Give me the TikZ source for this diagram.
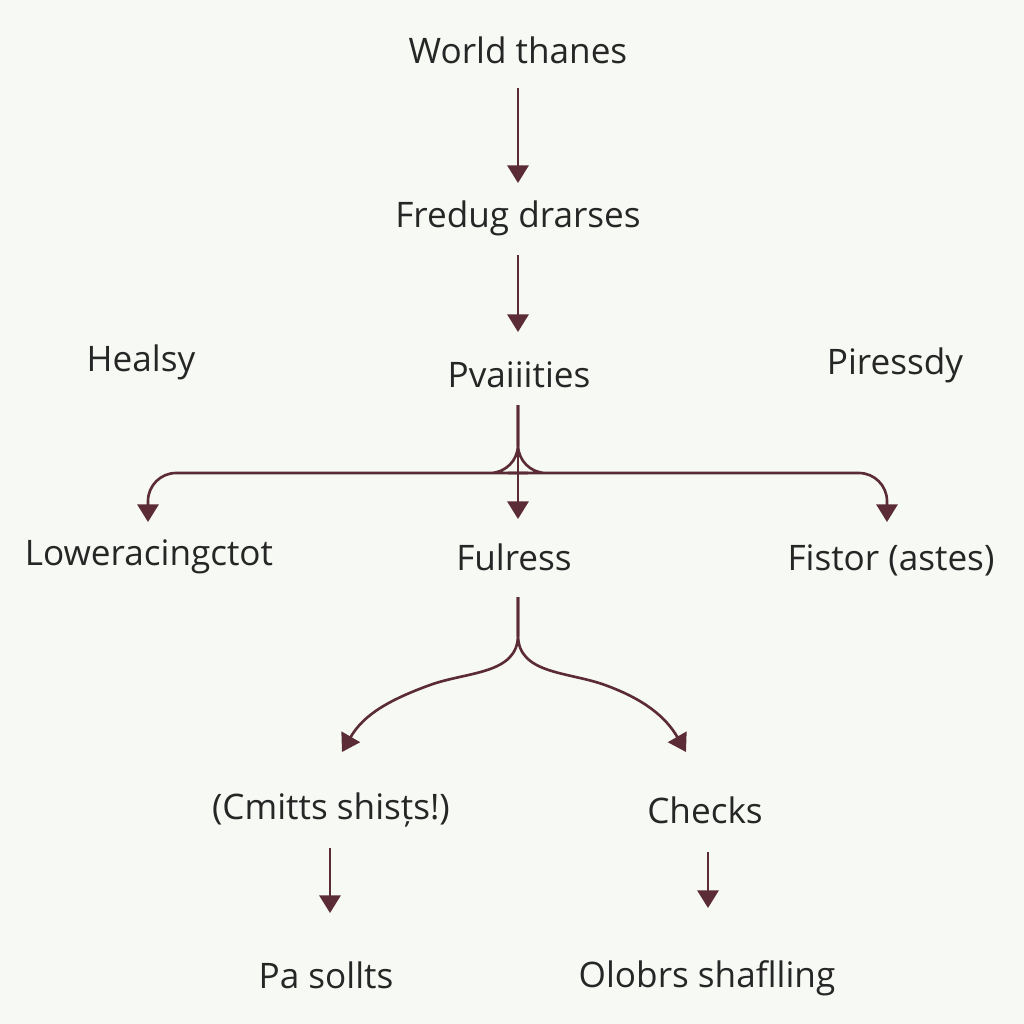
\documentclass[tikz,border=0pt]{standalone}
\usepackage{fontspec}
\setmainfont{Open Sans}
\usetikzlibrary{arrows.meta}
\definecolor{paper}{HTML}{F7F9F4}
\definecolor{wine}{HTML}{5B2B36}
\begin{document}
\begin{tikzpicture}[x=1cm,y=-1cm,
    lbl/.style={inner sep=1pt,font=\fontsize{10}{12}\selectfont,text=black!85},
    flow/.style={wine,line width=0.75pt,-{Triangle[length=5pt,width=6pt]}}]
    % background
    \fill[paper] (0,0) rectangle (10.24,10.24);
    \useasboundingbox (0,0) rectangle (10.24,10.24);

    % labels
    \node[lbl] (world) at (5.18,0.50) {World thanes};
    \node[lbl] (fredug) at (5.18,2.18) {Fredug drarses};
    \node[lbl] (pvai) at (5.19,3.75) {Pvaiiities};
    \node[lbl] (healsy) at (1.41,3.62) {Healsy};
    \node[lbl] (piress) at (8.95,3.65) {Piressdy};
    \node[lbl] (lower) at (1.49,5.57) {Loweracingctot};
    \node[lbl] (fulress) at (5.14,5.57) {Fulress};
    \node[lbl] (fistor) at (8.91,5.60) {Fistor (astes)};
    \node[lbl] (cmitts) at (3.31,8.10) {(Cmitts shisțs!)};
    \node[lbl] (checks) at (7.05,8.10) {Checks};
    \node[lbl] (pa) at (3.26,9.75) {Pa sollts};
    \node[lbl] (olobrs) at (7.07,9.78) {Olobrs shaflling};

    % end points
    \coordinate (a1) at (5.18,0.88);  \coordinate (a2) at (5.18,1.83);
    \coordinate (b1) at (5.18,2.55);  \coordinate (b2) at (5.18,3.32);
    \coordinate (c0) at (5.18,4.05);  \coordinate (c1) at (5.18,5.19);
    \coordinate (cl) at (1.48,5.22);  \coordinate (cr) at (8.87,5.22);
    \coordinate (d0) at (5.18,5.97);
    \coordinate (dl) at (3.42,7.52);  \coordinate (dr) at (6.86,7.52);
    \coordinate (e1) at (3.30,8.48);  \coordinate (e2) at (3.30,9.13);
    \coordinate (f1) at (7.08,8.52);  \coordinate (f2) at (7.08,9.08);

    % connectors
    \draw[flow] (a1) -- (a2);
    \draw[flow] (b1) -- (b2);
    \draw[flow] (c0) -- (c1);
    \draw[flow,rounded corners=8pt] (c0) |- (5.00,4.73) -- (1.48,4.73) -- (cl);
    \draw[flow,rounded corners=8pt] (c0) |- (5.36,4.73) -- (8.87,4.73) -- (cr);
    \draw[flow] (d0) -- (5.18,6.35) to[out=270,in=20] (4.30,6.85) to[out=200,in=60] (dl);
    \draw[flow] (d0) -- (5.18,6.35) to[out=270,in=160] (6.05,6.85) to[out=-20,in=120] (dr);
    \draw[flow] (e1) -- (e2);
    \draw[flow] (f1) -- (f2);
\end{tikzpicture}
\end{document}
